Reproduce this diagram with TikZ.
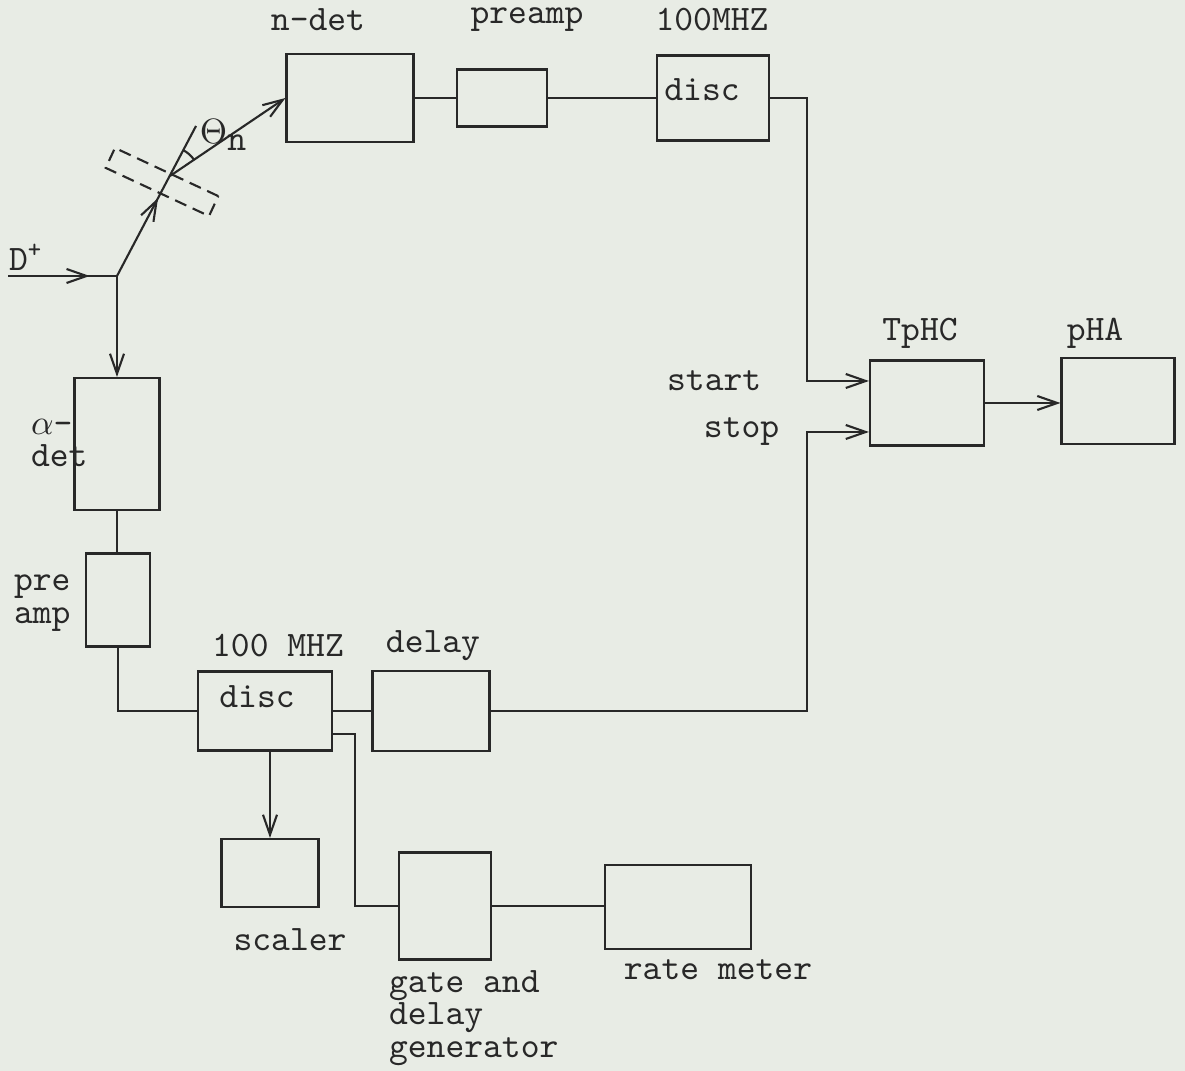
\documentclass[tikz,border=0pt]{standalone}
\usepackage{fontspec}
\usetikzlibrary{arrows.meta,positioning,decorations.markings}
\definecolor{paper}{RGB}{232,236,229}
\definecolor{ink}{RGB}{40,40,40}

\begin{document}
\begin{tikzpicture}[x=0.1mm,y=-0.1mm,font=\ttfamily\fontsize{10.2}{9.3}\selectfont,
   line width=0.6pt,color=ink,
   blk/.style={draw,inner sep=0pt},
   sig/.style={-{Straight Barb[length=2mm,width=1.4mm]}},
   midsig/.style={postaction={decorate},decoration={markings,
      mark=at position #1 with {\arrow{Straight Barb[length=2mm,width=1.4mm]}}}},
   lbl/.style={align=left,inner sep=0pt}]
  \useasboundingbox[fill=paper] (0,0) rectangle (1185,1071);
  % top row
  \node[blk,minimum width=12.7mm,minimum height=8.8mm] (ndet)  at (350,98) {};
  \node[blk,minimum width=9mm,minimum height=5.7mm]    (pamp)  at (502,98) {};
  \node[blk,minimum width=11.2mm,minimum height=8.5mm] (disca) at (713,98) {};
  \node[blk,minimum width=11.4mm,minimum height=8.5mm] (tphc)  at (927,403) {};
  \node[blk,minimum width=11.3mm,minimum height=8.6mm] (pha)   at (1118,401) {};
  % alpha branch
  \node[blk,minimum width=8.5mm,minimum height=13.2mm] (adet)  at (117,444) {};
  \node[blk,minimum width=6.4mm,minimum height=9.3mm]  (pre)   at (118,600) {};
  \node[blk,minimum width=13.4mm,minimum height=7.9mm] (discb) at (265,711) {};
  \node[blk,minimum width=11.7mm,minimum height=8mm]   (dly)   at (431,711) {};
  \node[blk,minimum width=9.7mm,minimum height=6.8mm]  (scl)   at (270,873) {};
  \node[blk,minimum width=9.2mm,minimum height=10.7mm] (gdg)   at (445,906) {};
  \node[blk,minimum width=14.6mm,minimum height=8.4mm] (rtm)   at (678,907) {};
  % target
  \node[draw,dash pattern=on 3.5pt off 2pt,minimum width=11.4mm,minimum height=2.2mm,
        inner sep=0pt,rotate=-25] (tgt) at (162,182) {};
  \coordinate (dsrc) at (8,276);
  \coordinate (jn) at (117,276);
  \coordinate (hit) at (170,176);
  \coordinate (bmend) at (196,126);

  % labels
  \node (l-ndet) at (318,20) {n-det};
  \node (l-pamp) at (527,20) {preamp};
  \node (l-mhza) at (712,20) {100MHZ};
  \node (l-disca) at (702,90) {disc};
  \node (l-tphc) at (920,333) {TpHC};
  \node (l-pha) at (1095,333) {pHA};
  \node[anchor=east] (l-start) at (774,381) {start};
  \node[anchor=east] (l-stop) at (792,432) {stop};
  \node (l-d) at (26,257) {D\textsuperscript{+}};
  \node (l-th) at (223,135) {$\Theta$\raisebox{-0.5ex}{n}};
  \node[lbl,anchor=west] (l-adet) at (30,443) {$\alpha$-\\det};
  \node[lbl,anchor=west] (l-pre) at (13,603) {pre\\amp};
  \node (l-mhzb) at (278,646) {100 MHZ};
  \node (l-discb) at (257,697) {disc};
  \node (l-dly) at (433,646) {delay};
  \node (l-scl) at (290,940) {scaler};
  \node[lbl,anchor=west] (l-gdg) at (388,1018) {gate and\\delay\\generator};
  \node (l-rtm) at (718,970) {rate meter};

  % beam and neutron
  \draw[midsig=0.75] (dsrc) -- (jn);
  \draw[midsig=0.52] (jn) -- (bmend);
  \draw[sig] (jn) -- (adet.north);
  \draw[sig] (hit) -- (ndet.west);
  \draw ([shift={(-33:29)}]hit) arc[start angle=-33,end angle=-64,radius=29];

  % signal lines
  \draw (ndet) -- (pamp);
  \draw (pamp) -- (disca);
  \draw[sig] (disca.east) -| ([xshift=-6.2mm,yshift=2.2mm]tphc.west) -- ([yshift=2.2mm]tphc.west);
  \draw[sig] (dly.east) -| ([xshift=-6.2mm,yshift=-2.9mm]tphc.west) -- ([yshift=-2.9mm]tphc.west);
  \draw[sig] (tphc.east) -- (tphc.east -| pha.west);
  \draw (adet.south) -- (adet.south |- pre.north);
  \draw (pre.south) |- (discb.west);
  \draw (discb) -- (dly);
  \draw ([yshift=-2.3mm]discb.east) -- ++(22,0) |- (gdg.west);
  \draw[sig] (scl.north |- discb.south) -- (scl.north);
  \draw (gdg.east) -- (gdg.east -| rtm.west);
\end{tikzpicture}
\end{document}
